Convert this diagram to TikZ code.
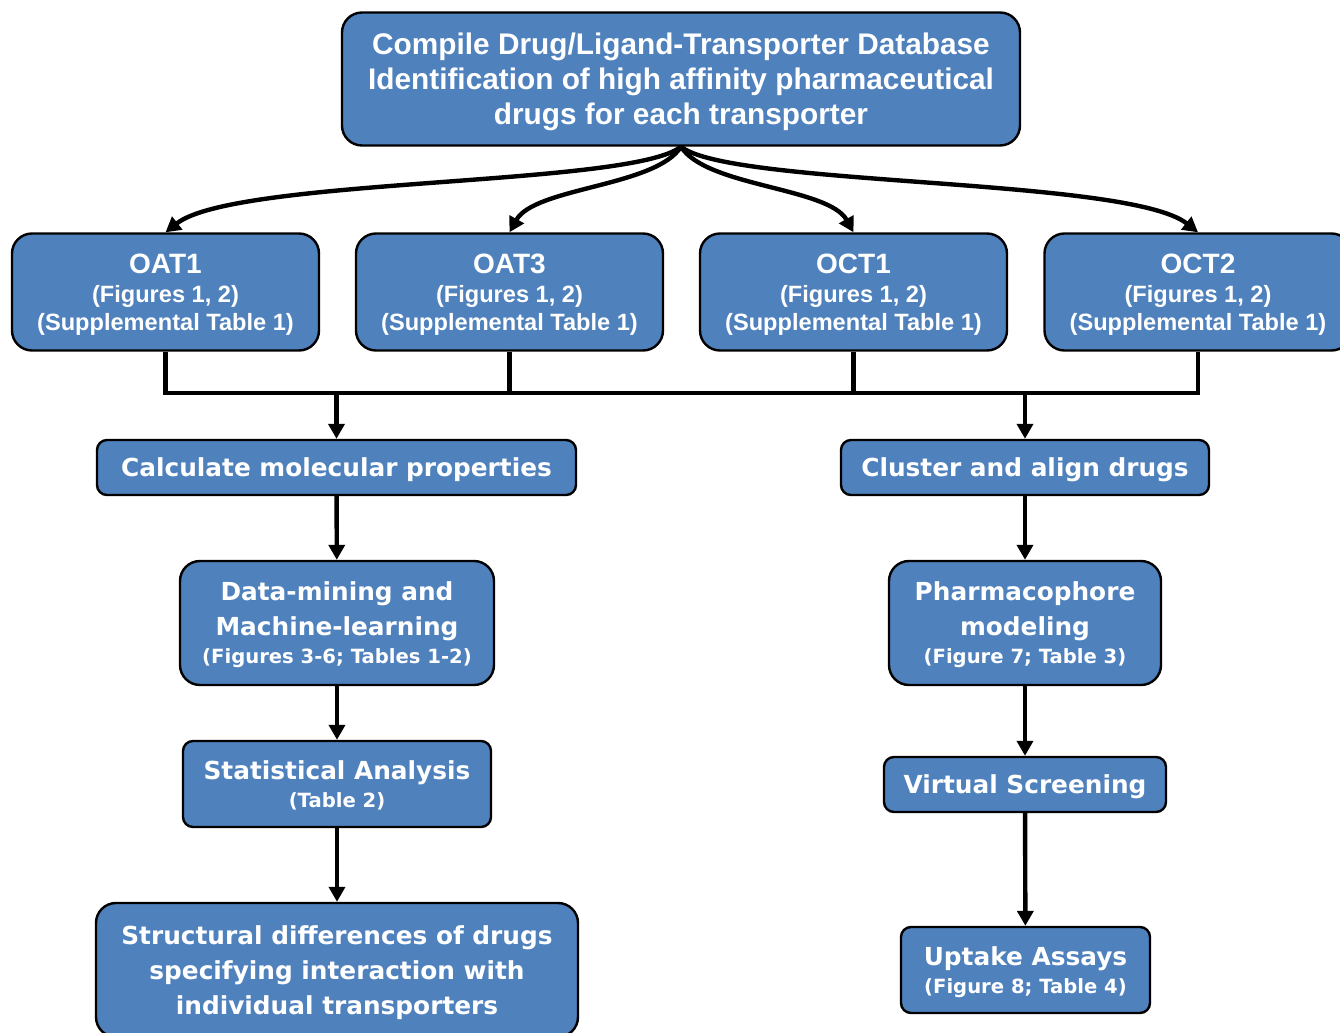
\documentclass[tikz,border=0pt]{standalone}
\usepackage{fontspec}
\setmainfont{Liberation Sans}
\newfontfamily\verdfont{DejaVu Sans}
\usetikzlibrary{arrows.meta}

\definecolor{boxblue}{HTML}{4F81BD}

\tikzset{
  box/.style={draw=black, line width=1.2pt, fill=boxblue, text=white,
    align=center, inner sep=0pt, rounded corners=10pt, text depth=0pt},
  smallbox/.style={box, rounded corners=5pt},
  bar/.style={line width=2.2pt},
  flow/.style={line width=2.2pt, -{Triangle[length=7.5pt,width=8pt]}},
  toptext/.style={font=\bfseries\fontsize{14.9}{17.5}\selectfont},
  steptext/.style={font=\verdfont\bfseries\fontsize{12.4}{17.5}\selectfont},
}
\newcommand{\sub}[1]{{\fontsize{9.8}{15}\selectfont #1}}

\begin{document}
\begin{tikzpicture}[x=0.5pt,y=-0.5pt]
\useasboundingbox (0,0) rectangle (1340,1033);

% Database box at the top
\node[box, toptext, minimum width=339pt, minimum height=66.5pt] (db) at (681,79)
  {Compile Drug/Ligand-Transporter Database\\
   Identification of high affinity pharmaceutical\\
   drugs for each transporter};

% One box per transporter
\foreach \name/\lab/\x in {oat1/OAT1/165.5, oat3/OAT3/509.5, oct1/OCT1/853.5, oct2/OCT2/1198}
  \node[box, font=\bfseries\fontsize{11.8}{14}\selectfont, minimum width=153.5pt,
        minimum height=58.5pt] (\name) at (\x,292)
    {{\fontsize{14}{15}\selectfont\lab}\\[0.5pt](Figures 1, 2)\\(Supplemental Table 1)};

% Curved arrows from the database to the transporters
\draw[flow] (db.south) .. controls +(-50,40) and +(70,-55) .. (oat1.north);
\draw[flow] (db.south) .. controls +(-25,40) and +(25,-45) .. (oat3.north);
\draw[flow] (db.south) .. controls +(25,40) and +(-25,-45) .. (oct1.north);
\draw[flow] (db.south) .. controls +(50,40) and +(-70,-55) .. (oct2.north);

% Left branch
\node[smallbox, steptext, minimum width=239.5pt, minimum height=27.5pt] (calc) at (336.5,467.5)
  {Calculate molecular properties};
\node[box, steptext, minimum width=157pt, minimum height=62pt] (mining) at (337,623)
  {Data-mining and\\Machine-learning\\[-3.5pt]\sub{(Figures 3-6; Tables 1-2)}};
\node[smallbox, steptext, minimum width=154pt, minimum height=43pt] (stats) at (337,784)
  {Statistical Analysis\\[-3.5pt]\sub{(Table 2)}};
\node[box, steptext, minimum width=241pt, minimum height=67pt] (struct) at (337,970)
  {Structural differences of drugs\\specifying interaction with\\individual transporters};

% Right branch
\node[smallbox, steptext, minimum width=184pt, minimum height=27.5pt] (cluster) at (1025,467.5)
  {Cluster and align drugs};
\node[box, steptext, minimum width=136pt, minimum height=62pt] (pharma) at (1025,623)
  {Pharmacophore\\modeling\\[-3.5pt]\sub{(Figure 7; Table 3)}};
\node[smallbox, steptext, minimum width=141pt, minimum height=27.5pt] (screen) at (1025,784.5)
  {Virtual Screening};
\node[smallbox, steptext, minimum width=124.5pt, minimum height=43pt] (uptake) at (1025.5,970)
  {Uptake Assays\\[-3.5pt]\sub{(Figure 8; Table 4)}};

% Bus joining the transporters
\coordinate (bus) at (165,393);
\draw[bar] (oat1.south) -- (oat1.south |- bus) -- (oct2.south |- bus) -- (oct2.south);
\draw[bar] (oat3.south) -- (oat3.south |- bus);
\draw[bar] (oct1.south) -- (oct1.south |- bus);
\draw[flow] (calc.north |- bus) -- (calc.north);
\draw[flow] (cluster.north |- bus) -- (cluster.north);

% Steps down each branch
\draw[flow] (calc) -- (mining);
\draw[flow] (mining) -- (stats);
\draw[flow] (stats) -- (struct);
\draw[flow] (cluster) -- (pharma);
\draw[flow] (pharma) -- (screen);
\draw[flow] (screen) -- (uptake);
\end{tikzpicture}
\end{document}
